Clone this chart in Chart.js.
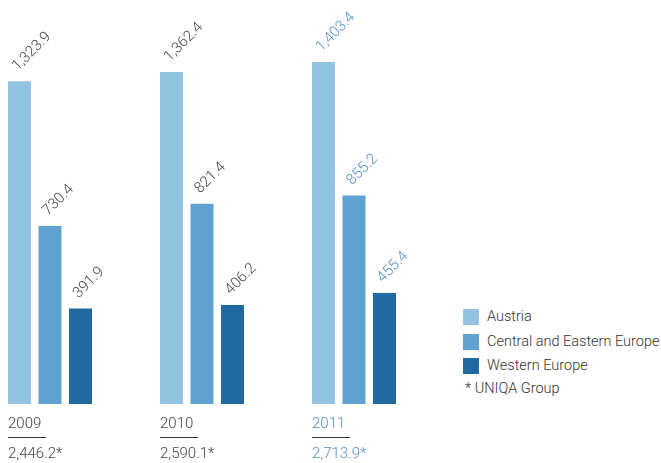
<!DOCTYPE html>
<html>
<head>
<meta charset="utf-8">
<script src="https://cdn.jsdelivr.net/npm/chart.js@4.4.0/dist/chart.umd.min.js"></script>
<style>
    html, body { margin: 0; padding: 0; background: #fff; overflow: hidden; }
    body { width: 661px; height: 463px; position: relative; font-family: Roboto, "Noto Sans", sans-serif; font-weight: 300; }
    #wrap { position: absolute; left: -26px; top: 0; width: 456px; height: 463px; }
    .legend { position: absolute; left: 463px; top: 309px; font-size: 14.5px; color: #333; }
    .legend .row { height: 24.5px; position: relative; }
    .legend .box { position: absolute; left: 0; top: 0; width: 16px; height: 16px; }
    .legend .txt { position: absolute; left: 24px; top: -1px; line-height: 18px; white-space: nowrap; }
    .legend .note { position: absolute; left: 2px; top: 71px; white-space: nowrap; line-height: 18px; }
</style>
</head>
<body>
<div id="wrap"><canvas id="chart"></canvas></div>
<div class="legend" id="legend"></div>
<script>
// Chart data
const years = ['2009', '2010', '2011'];
const austria = [1323.9, 1362.4, 1403.4];
const centralEastern = [730.4, 821.4, 855.2];
const westernEurope = [391.9, 406.2, 455.4];
const groupTotals = ['2,446.2*', '2,590.1*', '2,713.9*'];
const seriesNames = ['Austria', 'Central and Eastern Europe', 'Western Europe'];

const colors = ['#92c3e0', '#5fa2d0', '#206aa3'];
const darkText = '#444';
const blueText = '#4f8fc6';
const font = '300 15px Roboto, "Noto Sans", sans-serif';

// Legend
const legend = document.getElementById('legend');
seriesNames.forEach((name, i) => {
    legend.innerHTML += `<div class="row"><div class="box" style="background:${colors[i]}"></div><div class="txt">${name}</div></div>`;
});
legend.innerHTML += '<div class="note">* UNIQA Group</div>';

function fmt(v) {
    return v.toLocaleString('en-US', { minimumFractionDigits: 1, maximumFractionDigits: 1 });
}

// Rotated value labels above bars
const valueLabels = {
    id: 'valueLabels',
    afterDatasetsDraw(chart) {
        const ctx = chart.ctx;
        ctx.save();
        ctx.font = font;
        ctx.textAlign = 'left';
        ctx.textBaseline = 'alphabetic';
        chart.data.datasets.forEach((ds, di) => {
            chart.getDatasetMeta(di).data.forEach((bar, i) => {
                ctx.save();
                ctx.translate(bar.x - 2, bar.y - 10);
                ctx.rotate(-Math.PI / 4);
                ctx.fillStyle = i === years.length - 1 ? blueText : darkText;
                ctx.fillText(fmt(ds.data[i]), 0, 0);
                ctx.restore();
            });
        });
        ctx.restore();
    }
};

// Year labels, underline and totals under each group
const yearLabels = {
    id: 'yearLabels',
    afterDraw(chart) {
        const ctx = chart.ctx;
        const bottom = chart.chartArea.bottom;
        ctx.save();
        ctx.font = font;
        ctx.textAlign = 'left';
        chart.getDatasetMeta(0).data.forEach((bar, i) => {
            const left = bar.x - bar.width / 2;
            const c = i === years.length - 1 ? blueText : darkText;
            ctx.fillStyle = c;
            ctx.fillText(years[i], left, bottom + 24);
            ctx.fillText(groupTotals[i], left, bottom + 54);
            ctx.fillStyle = '#333';
            ctx.fillRect(left, bottom + 33, 38, 1);
        });
        ctx.restore();
    }
};

new Chart(document.getElementById('chart'), {
    type: 'bar',
    data: {
        labels: years,
        datasets: [
            { label: seriesNames[0], data: austria, backgroundColor: colors[0] },
            { label: seriesNames[1], data: centralEastern, backgroundColor: colors[1] },
            { label: seriesNames[2], data: westernEurope, backgroundColor: colors[2] }
        ]
    },
    options: {
        responsive: true,
        maintainAspectRatio: false,
        animation: false,
        categoryPercentage: 0.602,
        barPercentage: 0.754,
        layout: { padding: { top: 14, bottom: 59, left: 0, right: 0 } },
        plugins: {
            legend: { display: false },
            tooltip: { enabled: false }
        },
        scales: {
            x: { display: false },
            y: { display: false, min: 0, max: 1600 }
        }
    },
    plugins: [valueLabels, yearLabels]
});
</script>
</body>
</html>
